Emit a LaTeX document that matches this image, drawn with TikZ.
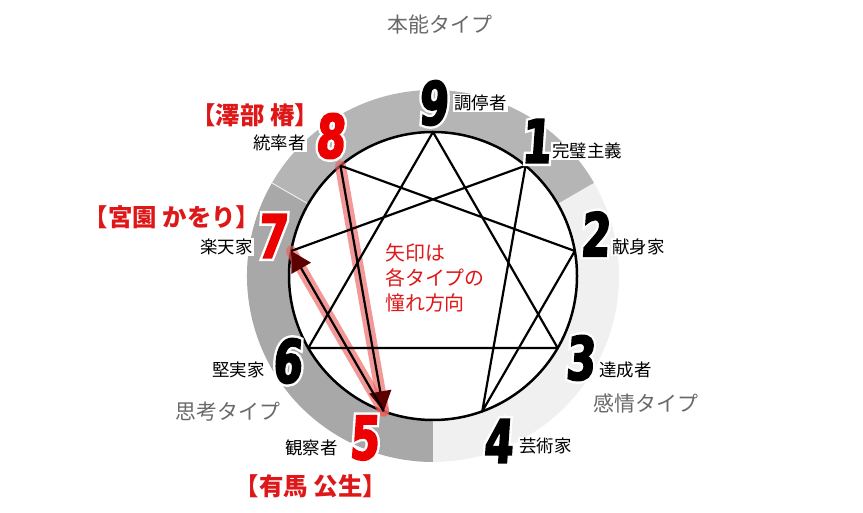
\documentclass[tikz,border=0pt]{standalone}
\usepackage{fontspec}
\usetikzlibrary{calc,arrows.meta}
\newfontfamily\jp{Noto Sans CJK JP}
\newfontfamily\numf{DejaVu Sans}[UprightFont={* Bold},FakeStretch=0.7,FakeSlant=0.07,FakeBold=3]
\newfontfamily\numh{DejaVu Sans}[UprightFont={* Bold},FakeStretch=0.7,FakeSlant=0.07,FakeBold=11]
\definecolor{bandtop}{RGB}{181,181,181}
\definecolor{bandleft}{RGB}{168,168,168}
\definecolor{bandright}{RGB}{240,240,240}
\definecolor{namered}{RGB}{222,24,24}
\definecolor{numred}{RGB}{236,0,0}
\definecolor{pinkc}{RGB}{238,95,95}
\definecolor{arrowc}{RGB}{92,0,0}
\definecolor{typegray}{RGB}{105,105,105}
\tikzset{
  numblack/.style={font=\numf\fontsize{60}{60}\selectfont, inner sep=0pt, text=black},
  numredst/.style={font=\numf\fontsize{60}{60}\selectfont, inner sep=0pt, text=numred},
  numhalo/.style={font=\numh\fontsize{60}{60}\selectfont, inner sep=0pt, text=white},
  lbl/.style={font=\jp\fontsize{17.5}{17.5}\selectfont, inner sep=1.2pt, fill=white, text=black},
  rname/.style={font=\jp\bfseries\fontsize{24.5}{24.5}\selectfont, inner sep=0pt, text=namered},
  typelbl/.style={font=\jp\fontsize{21}{21}\selectfont, inner sep=0pt, text=typegray},
  ctext/.style={font=\jp\fontsize{20}{25.5}\selectfont, inner sep=0pt, text=namered, align=left},
  eline/.style={line width=2.2bp, black, line join=round},
  pinkband/.style={line width=11bp, pinkc, opacity=0.65, line cap=round},
  arr/.style={-{Triangle[length=20bp,width=22bp,color=arrowc]}}
}
\begin{document}
\begin{tikzpicture}[x=1bp,y=1bp]
\useasboundingbox (0,0) rectangle (863,513);
\coordinate (O) at (433,237);
% band sectors
\fill[bandtop] ($(O)+(30:186)$) arc[start angle=30,end angle=150,radius=186] -- ($(O)+(150:144)$) arc[start angle=150,end angle=30,radius=144] -- cycle;
\fill[bandleft] ($(O)+(150:186)$) arc[start angle=150,end angle=270,radius=186] -- ($(O)+(270:144)$) arc[start angle=270,end angle=150,radius=144] -- cycle;
\fill[bandright] ($(O)+(270:186)$) arc[start angle=270,end angle=390,radius=186] -- ($(O)+(30:144)$) arc[start angle=30,end angle=-90,radius=144] -- cycle;
\draw[white!85!gray, line width=1bp] ($(O)+(150:144)$) -- ($(O)+(150:186)$);
% circle
\draw[line width=2.5bp] (O) circle[radius=144];
% points
\foreach \i/\a in {9/90,1/50,2/10,3/-30,4/-70,5/-110,6/-150,7/170,8/130}{
  \coordinate (p\i) at ($(O)+(\a:144)$);
}
% pink bands
\draw[pinkband] (p8) -- (p5);
\draw[pinkband] (p5) -- (p7);
% enneagram lines
\draw[eline] (p9) -- (p3) -- (p6) -- cycle;
\draw[eline] (p7) -- (p1) -- (p4) -- (p2) -- (p8);
\draw[eline, arr] (p8) -- (p5);
\draw[eline, arr] (p5) -- (p7);
% numbers
\foreach \n/\x/\y/\c in {9/433/410/numblack,1/536/372/numblack,2/595/279/numblack,3/580/155/numblack,4/498/72/numblack,5/364/75/numredst,6/287/152/numblack,7/272/277/numredst,8/330/377/numredst}{
  \node[numhalo] (h\n) at (\x,\y) {\n};
  \node[\c] (n\n) at (\x,\y) {\n};
}
% labels
\node[lbl, anchor=west] (l9) at (453,410) {調停者};
\node[lbl, anchor=west] (l1) at (551,362) {完璧主義};
\node[lbl, anchor=west] (l2) at (611,266) {献身家};
\node[lbl, anchor=west] (l3) at (598,143) {達成者};
\node[lbl, anchor=west] (l4) at (518,67) {芸術家};
\node[lbl, anchor=east] (l5) at (339,65) {観察者};
\node[lbl, anchor=east] (l6) at (266,143) {堅実家};
\node[lbl, anchor=east] (l7) at (254,266) {楽天家};
\node[lbl, anchor=east] (l8) at (307,370) {統率者};
% red names
\node[rname] (r8) at (255,398) {【澤部 椿】};
\node[rname] (r7) at (172,295.5) {【宮園 かをり】};
\node[rname] (r5) at (311,26.5) {【有馬 公生】};
% type labels
\node[typelbl] (t1) at (440,488) {本能タイプ};
\node[typelbl] (t2) at (228,101) {思考タイプ};
\node[typelbl] (t3) at (646,110) {感情タイプ};
% center text
\node[ctext, anchor=west] (ct) at (385,235) {矢印は\\各タイプの\\憧れ方向};
\end{tikzpicture}
\end{document}
